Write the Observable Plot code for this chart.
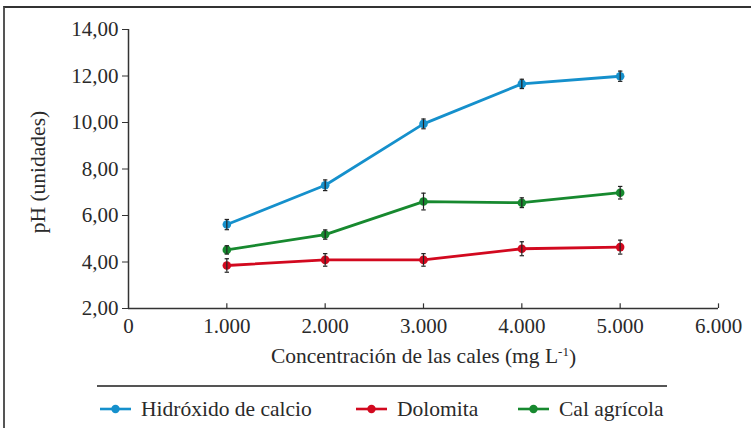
<!DOCTYPE html>
<html><head><meta charset="utf-8">
<script src="https://cdn.jsdelivr.net/npm/d3@7"></script>
<script src="https://cdn.jsdelivr.net/npm/@observablehq/plot@0.6"></script>
<style>
body{margin:0;background:#fff;width:751px;height:428px;overflow:hidden;position:relative;font-family:"Times New Roman","Liberation Serif",Times,serif;color:#2a2a2a;}
#frame{position:absolute;left:3px;top:6px;width:900px;height:600px;border-left:2px solid #555;border-top:2px solid #333;}
#chart{position:absolute;left:0;top:0;}
#rule{position:absolute;left:97px;top:385px;width:570px;height:0;border-top:2px solid #555;}
.item{position:absolute;top:397px;height:24px;display:flex;align-items:center;font-size:21.5px;white-space:nowrap;}
.item svg{margin-right:10px;}
</style>
</head><body>
<div id="frame"></div>
<div id="chart"></div>
<div id="rule"></div>
<div id="legend"></div>
<script>
// ---- data ----
const concentrations = [1000, 2000, 3000, 4000, 5000];
const hidroxido = [5.61, 7.30, 9.94, 11.66, 11.99];
const hidroxidoErr = [0.22, 0.23, 0.21, 0.20, 0.22];
const dolomita = [3.85, 4.09, 4.09, 4.57, 4.64];
const dolomitaErr = [0.29, 0.27, 0.27, 0.30, 0.30];
const calAgricola = [4.52, 5.18, 6.60, 6.55, 6.98];
const calAgricolaErr = [0.18, 0.20, 0.36, 0.21, 0.27];
const seriesNames = ["Hidróxido de calcio", "Dolomita", "Cal agrícola"];
const seriesColors = ["#1590cc", "#d2091f", "#17892f"];
const xTicks = [0, 1000, 2000, 3000, 4000, 5000, 6000];
const yTicks = [2, 4, 6, 8, 10, 12, 14];
const xLabel = "Concentración de las cales (mg L-1)";
const yLabel = "pH (unidades)";

const seriesValues = [hidroxido, dolomita, calAgricola];
const seriesErrs = [hidroxidoErr, dolomitaErr, calAgricolaErr];
const rows = [];
seriesNames.forEach((s, i) => concentrations.forEach((c, j) => rows.push({
  series: s, x: c, y: seriesValues[i][j], lo: seriesValues[i][j] - seriesErrs[i][j], hi: seriesValues[i][j] + seriesErrs[i][j]
})));

const loc = d3.formatLocale({decimal: ",", thousands: ".", grouping: [3], currency: ["", ""]});
const fx = loc.format(",");
const fy = loc.format(",.2f");
const cap = {draw(ctx, size) { const r = Math.sqrt(size / Math.PI); ctx.moveTo(-r, 0); ctx.lineTo(r, 0); }};
const axisColor = "#333";
const serif = "'Times New Roman', 'Liberation Serif', Times, serif";

const chart = Plot.plot({
  width: 751, height: 375,
  marginLeft: 128, marginRight: 33, marginTop: 29, marginBottom: 67,
  style: {fontFamily: serif, fontSize: "21px", color: "#2a2a2a", background: "transparent", overflow: "visible"},
  x: {domain: [xTicks[0], xTicks[xTicks.length - 1]]},
  y: {domain: [yTicks[0], yTicks[yTicks.length - 1]]},
  color: {domain: seriesNames, range: seriesColors},
  marks: [
    Plot.axisY({ticks: yTicks, tickSize: 6, tickPadding: 4, tickFormat: fy, label: null, stroke: axisColor}),
    Plot.axisX({ticks: xTicks, tickSize: 0, tickPadding: 10, tickFormat: fx, label: null}),
    Plot.ruleX(xTicks.slice(1), {x: d => d, y1: yTicks[0], y2: yTicks[0] + 0.2, stroke: axisColor, strokeWidth: 1.2}),
    Plot.ruleX([xTicks[0]], {stroke: axisColor, strokeWidth: 1.5}),
    Plot.ruleY([yTicks[0]], {stroke: axisColor, strokeWidth: 1.5}),
    Plot.line(rows, {x: "x", y: "y", z: "series", stroke: "series", strokeWidth: 2.8}),
    Plot.dot(rows, {x: "x", y: "y", fill: "series", r: 4.3}),
    Plot.ruleX(rows, {x: "x", y1: "lo", y2: "hi", stroke: "#222", strokeWidth: 1.2}),
    Plot.dot(rows, {x: "x", y: "hi", symbol: cap, r: 2.2, stroke: "#222", strokeWidth: 1.2}),
    Plot.dot(rows, {x: "x", y: "lo", symbol: cap, r: 2.2, stroke: "#222", strokeWidth: 1.2}),
    Plot.text([yLabel], {text: d => d, frameAnchor: "left", dx: -90, dy: 3, rotate: -90, textAnchor: "middle", lineAnchor: "middle", fontSize: 21.5}),
    Plot.text([xLabel], {text: d => d, frameAnchor: "bottom", dy: 48, textAnchor: "middle", lineAnchor: "middle", fontSize: 21.5})
  ]
});
document.getElementById("chart").appendChild(chart);

// superscript for L-1
d3.select(chart).selectAll("text").each(function() {
  if (this.textContent === xLabel) {
    const t = d3.select(this); t.text(null);
    t.append("tspan").text("Concentración de las cales (mg L");
    t.append("tspan").attr("font-size", "13px").attr("dy", "-0.55em").text("-1");
    t.append("tspan").attr("dy", "0.35em").text(")");
  }
});

// legend
const legendLeft = [100, 356, 518];
const legend = document.getElementById("legend");
seriesNames.forEach((s, i) => {
  const div = document.createElement("div");
  div.className = "item";
  div.style.left = legendLeft[i] + "px";
  div.innerHTML = `<svg width="31" height="12"><line x1="0" x2="31" y1="6" y2="6" stroke="${seriesColors[i]}" stroke-width="2.6"/><circle cx="15.5" cy="6" r="4.2" fill="${seriesColors[i]}"/></svg>`;
  const span = document.createElement("span");
  span.textContent = s;
  div.appendChild(span);
  legend.appendChild(div);
});
</script>
</body></html>
